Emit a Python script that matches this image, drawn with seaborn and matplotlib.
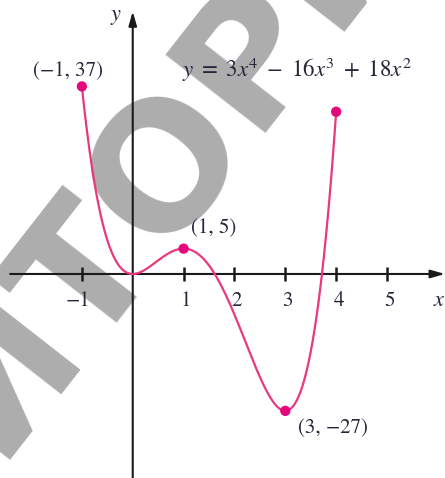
import numpy as np
import matplotlib
matplotlib.use("Agg")
import matplotlib.pyplot as plt
import seaborn as sns
from matplotlib.textpath import TextPath
from matplotlib.font_manager import FontProperties

# Polynomial y = 3x^4 - 16x^3 + 18x^2 (highest power first)
coeffs = [3, -16, 18, 0, 0]
x_domain = [-1, 4]

# Marked points on the curve
pt_x = [-1, 1, 3, 4]
pt_y = [37, 5, -27, 32]
pt_labels = ["(\u22121, 37)", "(1, 5)", "(3, \u221227)"]

# Axis ticks
tick_vals = [-1, 1, 2, 3, 4, 5]
tick_labels = ["\u22121", "1", "2", "3", "4", "5"]

sns.set_theme(style="white")
plt.rcParams["mathtext.fontset"] = "stix"
plt.rcParams["font.family"] = ["STIXGeneral", "DejaVu Serif"]

curve_color = "#e8397f"
point_color = "#e4087c"
text_color = "#26263a"

W, H, DPI = 4.45, 4.78, 100
fig = plt.figure(figsize=(W, H), dpi=DPI)
ax = fig.add_axes([0, 0, 1, 1])
ax.set_xlim(-2.61, 6.14)
ax.set_ylim(-40.24, 54.04)
ax.axis("off")

# watermark: diagonal word, placed so its second "О" sits at a chosen spot
wm_text = "РЕПОЗИТОРИЙ"
wm_size = 126          # points
wm_angle = 52          # degrees
wm_focus_px = (152, 150)   # pixel centre of the second "О", from top-left
fp = FontProperties(family="DejaVu Sans", weight="bold")
size_px = wm_size * DPI / 72
ext_pre = TextPath((0, 0), wm_text[:8], size=size_px, prop=fp).get_extents()
ext_o = TextPath((0, 0), "О", size=size_px, prop=fp).get_extents()
cap = ext_o.height
d = ext_pre.x1 - ext_o.width / 2
th = np.deg2rad(wm_angle)
b = np.array([np.cos(th), np.sin(th)])
u = np.array([-np.sin(th), np.cos(th)])
c = np.array([wm_focus_px[0], H * DPI - wm_focus_px[1]])
anchor = c - (cap / 2) * u - d * b
ax_anchor = ax.transData.inverted().transform(anchor)
ax.text(ax_anchor[0], ax_anchor[1], wm_text, rotation=wm_angle,
        rotation_mode="anchor", ha="left", va="baseline",
        fontsize=wm_size, fontweight="bold", color="#adadad",
        family="DejaVu Sans", zorder=0)

# curve
xs = np.linspace(x_domain[0], x_domain[1], 500)
ys = np.polyval(coeffs, xs)
sns.lineplot(x=xs, y=ys, color=curve_color, lw=1.6, ax=ax, zorder=3)

# axes with arrows
arrow = dict(arrowstyle="-|>,head_length=0.7,head_width=0.2", lw=1.5,
             color="#1a1a1a", shrinkA=0, shrinkB=0)
ax.annotate("", xy=(6.14, 0), xytext=(-2.41, 0), arrowprops=arrow, zorder=2)
ax.annotate("", xy=(0, 51.8), xytext=(0, -40.24), arrowprops=arrow, zorder=2)

# ticks
ax.vlines(tick_vals, -1.3, 1.3, color="#1a1a1a", lw=1.8, zorder=2)
for v, lab in zip(tick_vals, tick_labels):
    dx = -0.08 if v < 0 else 0.05
    ax.text(v + dx, -5.3, lab, ha="center", va="center", fontsize=15,
            color=text_color)

ax.text(6.02, -5.3, "$x$", ha="center", va="center", fontsize=16, color=text_color)
ax.text(-0.33, 50.6, "$y$", ha="center", va="center", fontsize=16, color=text_color)

# points
sns.scatterplot(x=pt_x, y=pt_y, s=55, color=point_color, edgecolor="none",
                ax=ax, zorder=4)

label_pos = [(-1.27, 40.0), (1.60, 9.1), (3.94, -30.4)]
for (lx, ly), lab in zip(label_pos, pt_labels):
    ax.text(lx, ly, lab, ha="center", va="center", fontsize=15, color=text_color)

ax.text(0.97, 40.2, r"$y\ =\ 3x^4\ -\ 16x^3\ +\ 18x^2$", ha="left", va="center",
        fontsize=16.5, color=text_color)

fig.savefig("out.png", dpi=DPI)
